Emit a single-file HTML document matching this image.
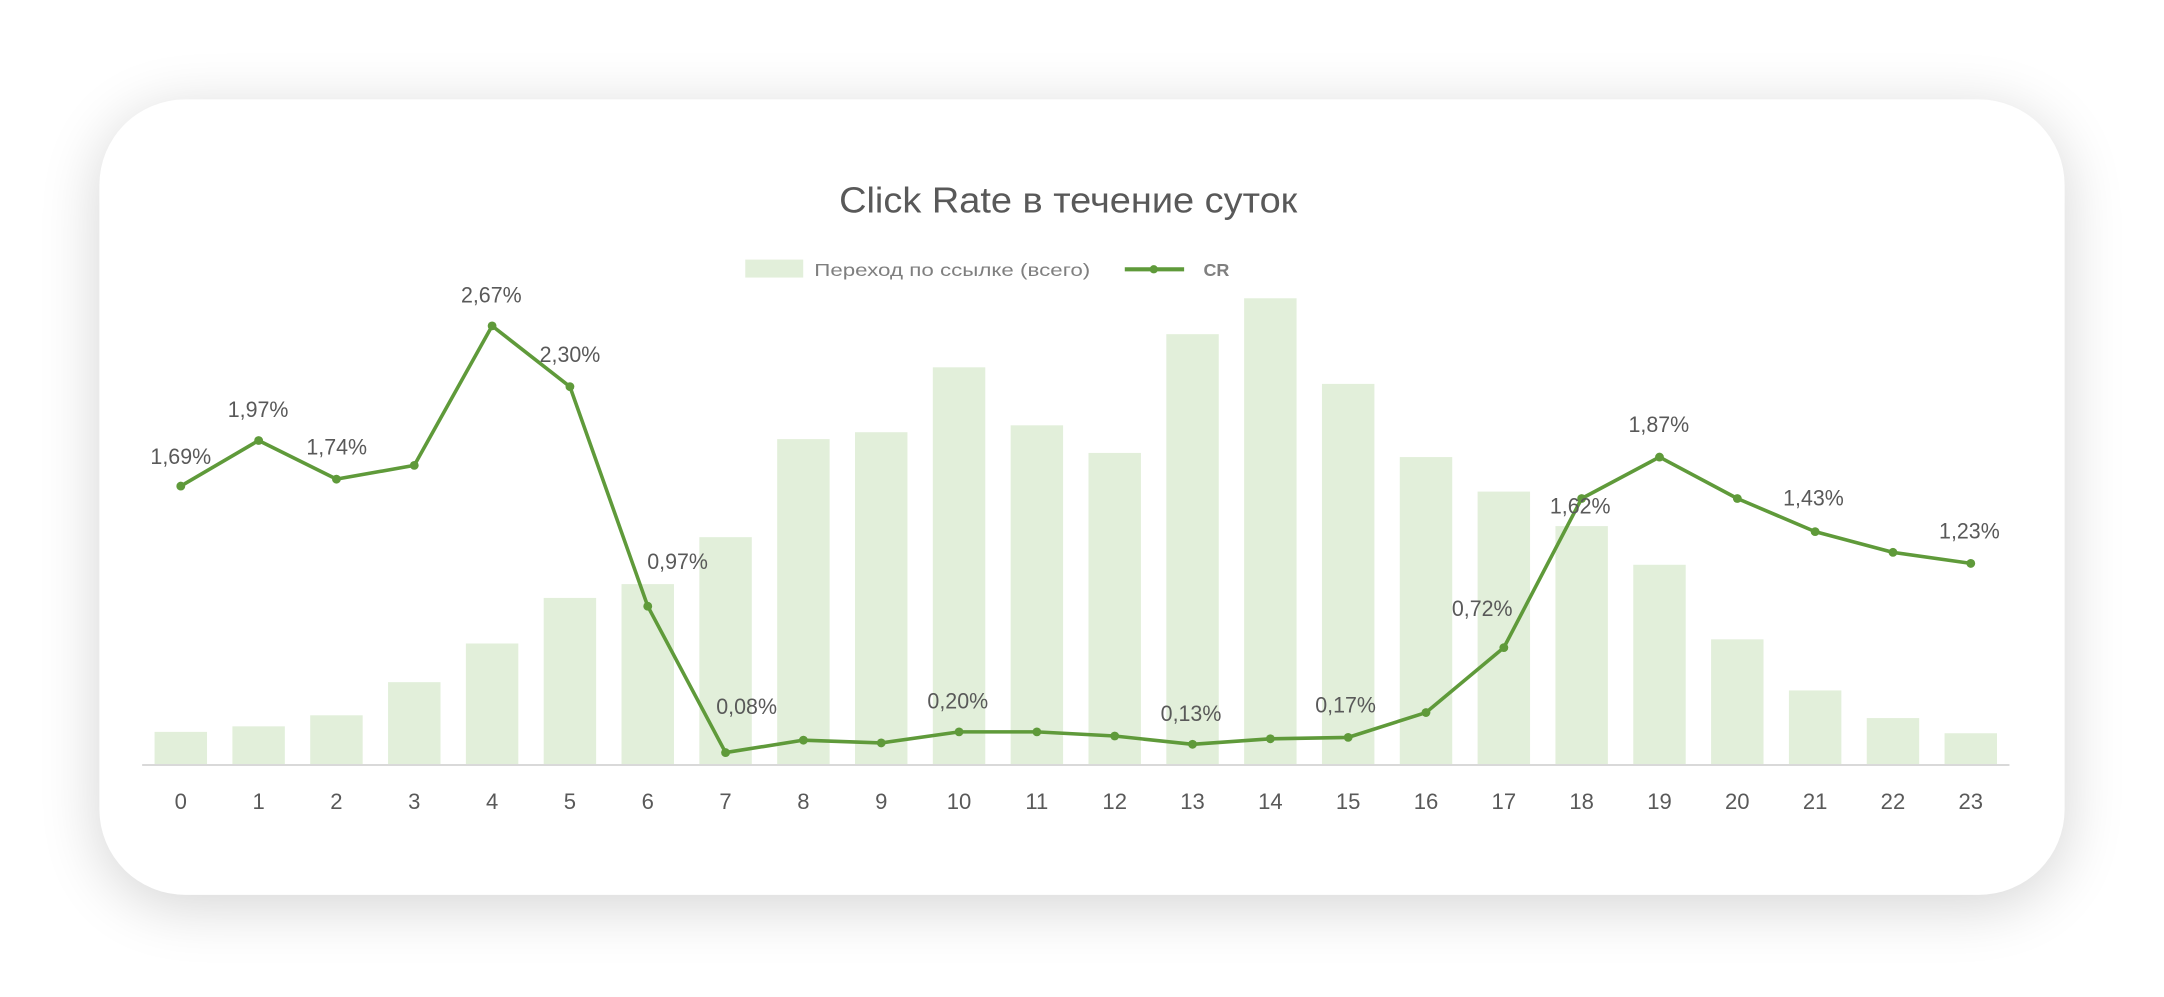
<!DOCTYPE html>
<html><head><meta charset="utf-8"><style>
html,body{margin:0;padding:0;background:#fff;width:2164px;height:997px;overflow:hidden}
svg{display:block}
</style></head><body>
<svg width="2164" height="997" viewBox="0 0 1568 722" preserveAspectRatio="none" xmlns="http://www.w3.org/2000/svg" font-family="'Liberation Sans', 'DejaVu Sans', sans-serif">
<defs><filter id="sh" x="-10%" y="-20%" width="120%" height="140%"><feGaussianBlur stdDeviation="22"/></filter></defs>
<rect x="72" y="80" width="1424" height="576" rx="62" fill="#000" opacity="0.17" filter="url(#sh)"/>
<rect x="72" y="72" width="1424" height="576" rx="62" fill="#fff"/>
<text x="608" y="154" font-size="26" fill="#595959" textLength="332" lengthAdjust="spacingAndGlyphs">Click Rate в течение суток</text>
<rect x="540" y="188" width="42" height="13" fill="#e2efda"/>
<text x="590" y="200" font-size="13" fill="#7f7f7f" textLength="200" lengthAdjust="spacingAndGlyphs">Переход по ссылке (всего)</text>
<line x1="815" y1="195" x2="858" y2="195" stroke="#5f9a3a" stroke-width="3"/>
<circle cx="836" cy="195" r="3" fill="#5f9a3a"/>
<text x="872" y="200" font-size="13" font-weight="bold" fill="#7f7f7f">CR</text>
<g fill="#e2efda" id="bars"></g>
<line x1="103" y1="554" x2="1456" y2="554" stroke="#d9d9d9" stroke-width="1.5"/>
<g id="ticks" font-size="16" fill="#595959" text-anchor="middle"></g>
<polyline id="ln" fill="none" stroke="#5f9a3a" stroke-width="2.6" stroke-linejoin="round"/>
<g id="pts" fill="#5f9a3a"></g>
<g id="lbl" font-size="16" fill="#595959" text-anchor="middle"></g>
</svg>
<script>
var ns="http://www.w3.org/2000/svg";
var bars=[530,526,518,494,466,433,423,389,318,313,266,308,328,242,216,278,331,356,381,409,463,500,520,531];
var ly=[352,319,347,337,236,280,439,545,536,538,530,530,533,539,535,534,516,469,361,331,361,385,400,408];
var labels=[[0,"1,69%",131,336],[1,"1,97%",187,302],[2,"1,74%",244,329],[4,"2,67%",356,219],[5,"2,30%",413,262],[6,"0,97%",491,412],[7,"0,08%",541,517],[10,"0,20%",694,513],[13,"0,13%",863,522],[15,"0,17%",975,516],[17,"0,72%",1074,446],[18,"1,62%",1145,372],[19,"1,87%",1202,313],[21,"1,43%",1314,366],[23,"1,23%",1427,390]];
function el(t,a,p,txt){var e=document.createElementNS(ns,t);for(var k in a)e.setAttribute(k,a[k]);if(txt!==undefined)e.textContent=txt;document.getElementById(p).appendChild(e);return e;}
var pts=[];
for(var i=0;i<24;i++){var cx=131+i*(1428-131)/23;
el("rect",{x:cx-19,y:bars[i],width:38,height:554-bars[i]},"bars");
el("text",{x:cx,y:586},"ticks",String(i));
el("circle",{cx:cx,cy:ly[i],r:3.2},"pts");
pts.push(cx+","+ly[i]);}
document.getElementById("ln").setAttribute("points",pts.join(" "));
labels.forEach(function(l){el("text",{x:l[2],y:l[3],textLength:44,lengthAdjust:"spacingAndGlyphs"},"lbl",l[1]);});
</script>
</body></html>
